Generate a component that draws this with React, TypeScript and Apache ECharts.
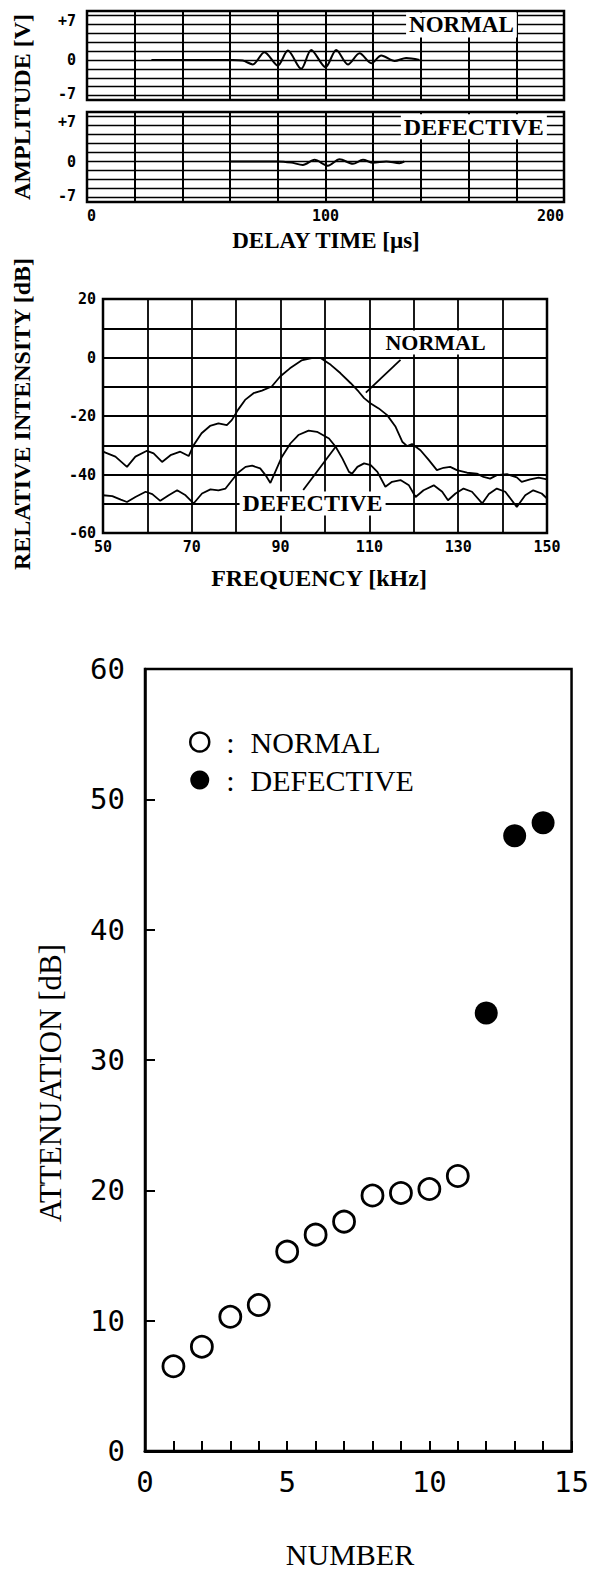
import React, { useEffect, useRef } from "react";
import * as echarts from "echarts";

// ---------- Panel 1: waveforms (delay time in µs, amplitude in V) ----------
const delayNormal = [27, 60, 61.1, 65.3, 69.5, 74.4, 80.0, 84.2, 89.8, 94.0, 100.0, 104.5, 109.4, 114.3, 119.2, 123.4, 129.0, 133.8, 139.4];
const ampNormal = [0, 0, 0, -0.1, -0.8, 1.4, -1.0, 1.7, -1.6, 1.8, -1.3, 1.8, -0.8, 1.2, -0.6, 0.8, -0.2, 0.35, 0];
const delayDefective = [60, 80, 85.6, 90.5, 95.4, 101.0, 105.9, 111.5, 115.7, 119.9, 125.5, 131, 133];
const ampDefective = [0, 0, -0.2, -0.6, 0.3, -0.75, 0.4, -0.4, 0.3, -0.2, 0, -0.3, 0];
const ampGridLevels = [-6.4, -4.8, -3.2, -1.6, 0, 1.6, 3.2, 4.8, 6.4, 8.0];
const ampTickLabels = ["-7", "0", "+7"];
const delayTickLabels = ["0", "100", "200"];
const waveLabelNames = ["NORMAL", "DEFECTIVE"];
const waveLabelT = [157, 162.2];
const waveLabelV = [6.3, 6.2];

// ---------- Panel 2: spectra (kHz, dB) ----------
const freqNormal = [50, 52.8, 55.4, 57.3, 59.9, 61.4, 63.3, 65.2, 67.4, 69.3, 70.4, 72.2, 74.1, 76.0, 77.9, 79.0, 80.4, 82.0, 83.9, 85.8, 88.0, 89.9, 92.1, 94.7, 97.0, 99.0, 101.3, 103.5, 105.8, 107.6, 108.8, 110.3, 112.1, 114.0, 115.9, 117.4, 118.5, 119.6, 121.5, 123.4, 125.2, 126.7, 128.2, 129.7, 132.0, 134.2, 135.7, 137.2, 138.7, 141.0, 143.2, 144.3, 146.2, 148.1, 150];
const dbNormal = [-32.2, -33.9, -37.4, -33.9, -31.9, -32.8, -35.7, -33.4, -32.2, -33.7, -30, -25.9, -23.4, -22.5, -23.1, -21.4, -17.9, -14.5, -12.2, -11.3, -9.9, -6.5, -3.7, -1.0, -0.2, -0.2, -2.5, -5.4, -8.8, -11.7, -13.9, -15.7, -17.4, -19.7, -23.7, -28.8, -30.3, -29.6, -31.7, -35.1, -38.5, -37.7, -37.4, -38.5, -39.4, -39.7, -40.8, -41.4, -40.2, -39.9, -41.0, -42.5, -41.7, -41.1, -41.7];
const freqDefective = [50, 52.1, 54.0, 55.4, 57.3, 59.6, 61.1, 62.9, 64.8, 66.7, 68.6, 70.4, 72.3, 74.2, 76.0, 77.6, 79.1, 80.4, 82.1, 83.6, 85.4, 86.6, 87.7, 88.8, 90.3, 92.2, 94.0, 96.3, 98.2, 100.9, 102.4, 103.9, 105.4, 106.1, 107.3, 108.8, 110.3, 111.8, 113.6, 115.1, 117.0, 118.9, 120.4, 122.2, 124.5, 126.4, 127.7, 129.4, 131.2, 133.1, 135.4, 136.9, 138.7, 140.6, 143.2, 145.1, 146.9, 148.8, 150];
const dbDefective = [-47.1, -47.4, -48.6, -49.4, -47.7, -45.9, -46.7, -49.0, -47.1, -45.4, -47.1, -49.9, -46.5, -45.1, -45.4, -44.8, -41.9, -39.4, -37.4, -37.0, -37.9, -40.2, -42.9, -39.1, -33.9, -29.4, -26.5, -25.0, -25.4, -27.7, -30.5, -34.5, -39.1, -39.7, -37.4, -36.2, -36.8, -39.1, -44.2, -42.5, -41.9, -43.7, -47.7, -45.4, -43.7, -45.9, -48.8, -46.5, -44.8, -45.9, -49.9, -46.7, -44.8, -45.9, -51.1, -47.1, -45.4, -46.5, -48.2];
const leaderNormalF = [117, 109.2];
const leaderNormalDb = [-0.8, -12];
const leaderDefectiveF = [95.1, 102.4];
const leaderDefectiveDb = [-45.3, -30.5];
const specLabelNames = ["NORMAL", "DEFECTIVE"];
const specLabelF = [124.9, 97.2];
const specLabelDb = [5.1, -49.9];

// ---------- Panel 3: attenuation vs sample number ----------
const numberNormal = [1, 2, 3, 4, 5, 6, 7, 8, 9, 10, 11];
const attenNormal = [6.5, 8.0, 10.3, 11.2, 15.3, 16.6, 17.6, 19.6, 19.8, 20.1, 21.1];
const numberDefective = [12, 13, 14];
const attenDefective = [33.6, 47.2, 48.2];

const zip = (a: number[], b: number[]) => a.map((v, i) => [v, b[i]]);

const SERIF = "'Liberation Serif', 'Times New Roman', serif";
const MONO = "'DejaVu Sans Mono', monospace";

function buildOption() {
  const tickFontTop = { fontFamily: MONO, fontWeight: "bold" as const, fontSize: 15, color: "#000" };
  const ampFormatter = (v: number) => {
    const r = Math.round(v * 10) / 10;
    if (r === 7) return ampTickLabels[2];
    if (r === 0) return ampTickLabels[1];
    if (r === -7) return "{d|" + ampTickLabels[0] + "}";
    return "";
  };
  const ampAxis = (gridIndex: number) => ({
    type: "value",
    gridIndex,
    min: -7.2,
    max: 8.8,
    interval: 0.2,
    axisLine: { show: false },
    axisTick: { show: false },
    splitLine: { show: false },
    axisLabel: {
      ...tickFontTop,
      margin: 11,
      formatter: ampFormatter,
      rich: { d: { ...tickFontTop, padding: [0, 0, 10, 0] } },
    },
  });
  const delayAxis = (gridIndex: number, showLabels: boolean) => ({
    type: "value",
    gridIndex,
    min: 0,
    max: 200,
    interval: 20,
    axisLine: { show: false },
    axisTick: { show: false },
    splitLine: { show: true, lineStyle: { color: "#000", width: 2 } },
    axisLabel: {
      show: showLabels,
      ...tickFontTop,
      margin: 6,
      alignMinLabel: "left",
      alignMaxLabel: "right",
      formatter: (v: number) => (delayTickLabels.indexOf(String(v)) >= 0 ? String(v) : ""),
    },
  });

  const gridLineSeries = (idx: number) => ({
    type: "line",
    name: "grid" + idx,
    xAxisIndex: idx,
    yAxisIndex: idx,
    data: [],
    silent: true,
    z: 1,
    markLine: {
      silent: true,
      symbol: ["none", "none"],
      label: { show: false },
      lineStyle: { color: "#000", width: 1.3, type: "solid", opacity: 1 },
      emphasis: { disabled: true },
      data: ampGridLevels.map((v) => ({ yAxis: v })),
    },
  });

  const annot = (idx: number, x: number, y: number, text: string, fontSize: number, padding: number[], lineHeight: number) => ({
    type: "scatter",
    name: "label-" + text + idx,
    xAxisIndex: idx,
    yAxisIndex: idx,
    data: [[x, y]],
    symbolSize: 1,
    itemStyle: { color: "rgba(0,0,0,0)", opacity: 1 },
    silent: true,
    z: 10,
    label: {
      show: true,
      position: "inside",
      formatter: text,
      fontFamily: SERIF,
      fontWeight: "bold",
      fontSize,
      lineHeight,
      color: "#000",
      opacity: 1,
      backgroundColor: "#fff",
      padding,
    },
  });

  const borderGrid = (left: number, top: number, width: number, height: number, bw: number) => ({
    left, top, width, height, show: true, borderColor: "#000", borderWidth: bw, backgroundColor: "#fff",
  });

  return {
    animation: false,
    backgroundColor: "#fff",
    grid: [
      borderGrid(87, 11, 477, 89, 2.5),
      borderGrid(87, 112, 477, 90, 2.5),
      borderGrid(103, 299, 444, 234, 2.5),
      borderGrid(145, 669, 427, 782, 2.5),
    ],
    xAxis: [
      delayAxis(0, false),
      delayAxis(1, true),
      {
        type: "value",
        gridIndex: 2,
        min: 50,
        max: 150,
        interval: 10,
        axisLine: { show: false },
        axisTick: { show: false },
        splitLine: { show: true, lineStyle: { color: "#000", width: 1.8 } },
        axisLabel: { ...tickFontTop, margin: 6, formatter: (v: number) => ((v - 50) % 20 === 0 ? String(v) : "") },
      },
      {
        type: "value",
        gridIndex: 3,
        min: 0,
        max: 15,
        interval: 1,
        axisLine: { show: true, lineStyle: { color: "#000", width: 3 } },
        axisTick: { show: true, inside: true, length: 10, lineStyle: { color: "#000", width: 2 } },
        splitLine: { show: false },
        axisLabel: { fontFamily: MONO, fontSize: 29, color: "#000", margin: 16, formatter: (v: number) => (v % 5 === 0 ? String(v) : "") },
      },
    ],
    yAxis: [
      ampAxis(0),
      ampAxis(1),
      {
        type: "value",
        gridIndex: 2,
        min: -60,
        max: 20,
        interval: 10,
        axisLine: { show: false },
        axisTick: { show: false },
        splitLine: { show: true, lineStyle: { color: "#000", width: 1.8 } },
        axisLabel: { ...tickFontTop, margin: 7, formatter: (v: number) => (v % 20 === 0 ? String(v) : "") },
      },
      {
        type: "value",
        gridIndex: 3,
        min: 0,
        max: 60,
        interval: 10,
        axisLine: { show: true, lineStyle: { color: "#000", width: 2.5 } },
        axisTick: { show: true, inside: true, length: 10, lineStyle: { color: "#000", width: 2 } },
        splitLine: { show: false },
        axisLabel: { fontFamily: MONO, fontSize: 29, color: "#000", margin: 20 },
      },
    ],
    legend: {
      orient: "vertical",
      left: 184,
      top: 722,
      itemWidth: 19,
      itemHeight: 20,
      itemGap: 8,
      selectedMode: false,
      data: [
        { name: "NORMAL", icon: "circle", itemStyle: { color: "#fff", borderColor: "#000", borderWidth: 2.5, opacity: 1 } },
        { name: "DEFECTIVE", icon: "circle", itemStyle: { color: "#000", borderColor: "#000", borderWidth: 0, opacity: 1 } },
      ],
      formatter: (name: string) => "{c|:}{n|" + name + "}",
      textStyle: {
        fontFamily: SERIF,
        fontSize: 30,
        color: "#000",
        rich: {
          c: { fontFamily: SERIF, fontSize: 30, color: "#000", padding: [0, 16, 0, 12] },
          n: { fontFamily: SERIF, fontSize: 30, color: "#000" },
        },
      },
    },
    graphic: [
      { type: "text", x: 22, y: 107, rotation: Math.PI / 2, style: { text: "AMPLITUDE [V]", font: "bold 24px " + SERIF, fill: "#000", align: "center", verticalAlign: "middle" } },
      { type: "text", x: 326, y: 240, style: { text: "DELAY TIME [µs]", font: "bold 23px " + SERIF, fill: "#000", align: "center", verticalAlign: "middle" } },
      { type: "text", x: 22, y: 414, rotation: Math.PI / 2, style: { text: "RELATIVE INTENSITY [dB]", font: "bold 24px " + SERIF, fill: "#000", align: "center", verticalAlign: "middle" } },
      { type: "text", x: 319, y: 578, style: { text: "FREQUENCY [kHz]", font: "bold 24px " + SERIF, fill: "#000", align: "center", verticalAlign: "middle" } },
      { type: "text", x: 50, y: 1083, rotation: Math.PI / 2, style: { text: "ATTENUATION [dB]", font: "31px " + SERIF, fill: "#000", align: "center", verticalAlign: "middle" } },
      { type: "text", x: 350, y: 1554, style: { text: "NUMBER", font: "30px " + SERIF, fill: "#000", align: "center", verticalAlign: "middle" } },
    ],
    series: [
      gridLineSeries(0),
      gridLineSeries(1),
      {
        type: "line",
        name: "wave normal",
        xAxisIndex: 0,
        yAxisIndex: 0,
        data: zip(delayNormal, ampNormal),
        symbol: "none",
        smooth: 0.3,
        z: 3,
        lineStyle: { color: "#000", width: 2 },
      },
      {
        type: "line",
        name: "wave defective",
        xAxisIndex: 1,
        yAxisIndex: 1,
        data: zip(delayDefective, ampDefective),
        symbol: "none",
        smooth: 0.3,
        z: 3,
        lineStyle: { color: "#000", width: 2 },
      },
      annot(0, waveLabelT[0], waveLabelV[0], waveLabelNames[0], 23, [0, 3, 5, 3], 20),
      annot(1, waveLabelT[1], waveLabelV[1], waveLabelNames[1], 24, [0, 3, 5, 3], 20),
      {
        type: "line",
        name: "spec normal",
        xAxisIndex: 2,
        yAxisIndex: 2,
        data: zip(freqNormal, dbNormal),
        symbol: "none",
        z: 3,
        lineStyle: { color: "#000", width: 1.8 },
      },
      {
        type: "line",
        name: "spec defective",
        xAxisIndex: 2,
        yAxisIndex: 2,
        data: zip(freqDefective, dbDefective),
        symbol: "none",
        z: 3,
        lineStyle: { color: "#000", width: 1.8 },
      },
      {
        type: "line",
        name: "leader normal",
        xAxisIndex: 2,
        yAxisIndex: 2,
        data: zip(leaderNormalF, leaderNormalDb),
        symbol: "none",
        z: 3,
        lineStyle: { color: "#000", width: 1.8 },
      },
      {
        type: "line",
        name: "leader defective",
        xAxisIndex: 2,
        yAxisIndex: 2,
        data: zip(leaderDefectiveF, leaderDefectiveDb),
        symbol: "none",
        z: 3,
        lineStyle: { color: "#000", width: 1.8 },
      },
      annot(2, specLabelF[0], specLabelDb[0], specLabelNames[0], 22, [1, 2, 1, 2], 22),
      annot(2, specLabelF[1], specLabelDb[1], specLabelNames[1], 24, [1, 3, 1, 3], 22),
      {
        type: "scatter",
        name: "NORMAL",
        xAxisIndex: 3,
        yAxisIndex: 3,
        data: zip(numberNormal, attenNormal),
        symbol: "circle",
        symbolSize: 21,
        z: 4,
        itemStyle: { color: "#fff", borderColor: "#000", borderWidth: 2.8, opacity: 1 },
      },
      {
        type: "scatter",
        name: "DEFECTIVE",
        xAxisIndex: 3,
        yAxisIndex: 3,
        data: zip(numberDefective, attenDefective),
        symbol: "circle",
        symbolSize: 23,
        z: 4,
        itemStyle: { color: "#000", opacity: 1 },
      },
    ],
  };
}

export default function App() {
  const ref = useRef<HTMLDivElement>(null);
  useEffect(() => {
    if (!ref.current) return;
    const chart = echarts.init(ref.current, null, { renderer: "svg" });
    chart.setOption(buildOption() as any);
    return () => chart.dispose();
  }, []);
  return (
    <div
      ref={ref}
      style={{ position: "absolute", left: 0, top: 0, width: 592, height: 1572, background: "#fff" }}
    />
  );
}
